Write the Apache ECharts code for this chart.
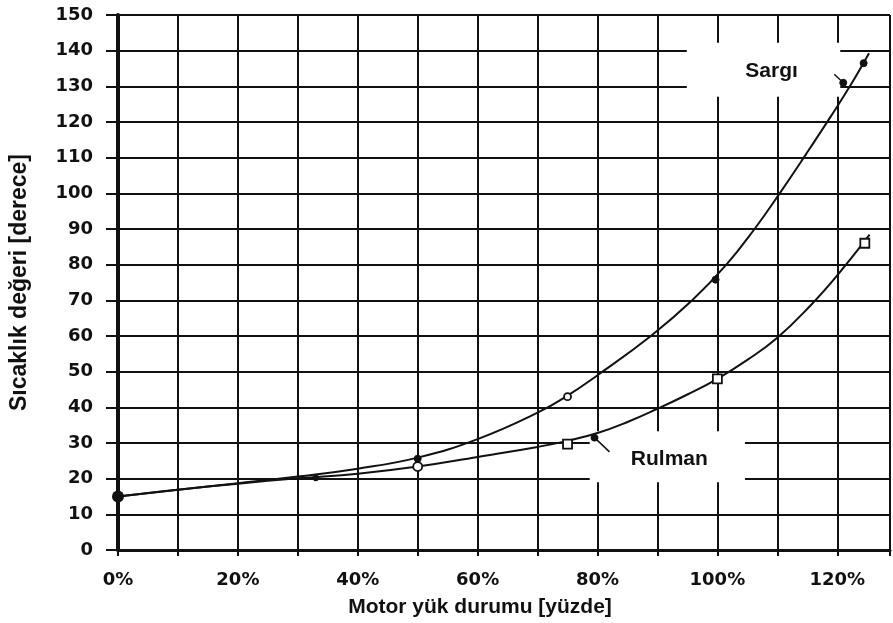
<!DOCTYPE html>
<html>
<head>
<meta charset="utf-8">
<script src="https://cdn.jsdelivr.net/npm/echarts@6/dist/echarts.min.js"></script>
<style>
  html, body { margin: 0; padding: 0; background: #fff; }
  #chart { width: 893px; height: 623px; }
</style>
</head>
<body>
<div id="chart"></div>
<script>
// ---- Data ----
const xTickValues = [0, 20, 40, 60, 80, 100, 120];          // labelled loads (%)
const yTickValues = [0, 10, 20, 30, 40, 50, 60, 70, 80, 90, 100, 110, 120, 130, 140, 150];

// Fitted curve (Sargı = winding)
const sargiCurveX = [0, 10, 20, 30, 40, 50, 60, 70, 75, 80, 88.9, 95.8, 101.5, 106.2, 110.4, 114.8, 118.9, 122.1, 125.3];
const sargiCurveY = [15, 16.9, 18.7, 20.6, 22.8, 25.9, 31.1, 38.5, 43.3, 49, 60, 70, 80, 90, 100, 111, 121.5, 130, 139.3];

// Fitted curve (Rulman = bearing)
const rulmanCurveX = [0, 10, 20, 30, 40, 50, 60, 70, 75, 80, 85, 90, 95, 100, 105, 110, 115.5, 120, 125.4];
const rulmanCurveY = [15, 16.9, 18.6, 20.1, 21.4, 23.4, 26.1, 28.9, 30.6, 32.8, 35.9, 39.6, 43.6, 48, 53.3, 59.5, 68.5, 77, 88.4];

// Measured points
const sargiPointX = [50, 75, 99.7, 121, 124.4];
const sargiPointY = [25.6, 43, 75.8, 131, 136.5];
const rulmanPointX = [33, 50, 75, 79.5, 100, 124.6];
const rulmanPointY = [20.2, 23.4, 29.7, 31.5, 48, 86];
const startPoint = [0, 15];

// Label boxes and arrows (data coordinates)
const sargiLabel = 'Sargı';
const rulmanLabel = 'Rulman';
const sargiBox = [[94.9, 142.2], [120.5, 127.1]];
const rulmanBox = [[78.7, 33.3], [104.6, 19.0]];
const sargiArrow = [[121, 131], [119.5, 133.4]];
const rulmanArrow = [[79.5, 31.5], [82, 27.5]];

const xAxisName = 'Motor yük durumu [yüzde]';
const yAxisName = 'Sıcaklık değeri [derece]';

// ---- Build ----
const zip = (xs, ys) => xs.map((x, i) => [x, ys[i]]);
const ink = '#111';
const tickFont = { fontFamily: 'DejaVu Sans', fontWeight: 'bold', fontSize: 18, color: ink };

const chart = echarts.init(document.getElementById('chart'), null, { renderer: 'canvas' });

const sargiPts = zip(sargiPointX, sargiPointY).map((p, i) => {
  const hollow = i === 1;
  return {
    value: p,
    symbol: 'circle',
    symbolSize: 7,
    itemStyle: hollow
      ? { color: '#fff', borderColor: ink, borderWidth: 1.8, opacity: 1 }
      : { color: ink, borderColor: ink, borderWidth: 1, opacity: 1 }
  };
});
const rulmanPts = zip(rulmanPointX, rulmanPointY).map((p, i) => {
  let sym = 'rect', size = 9, fill = '#fff';
  if (i === 0) { sym = 'circle'; size = 5; fill = ink; }
  if (i === 1) { sym = 'circle'; size = 9; fill = '#fff'; }
  if (i === 3) { sym = 'circle'; size = 6; fill = ink; }
  return {
    value: p, symbol: sym, symbolSize: size,
    itemStyle: { color: fill, borderColor: ink, borderWidth: 1.8, opacity: 1 }
  };
});

const option = {
  animation: false,
  backgroundColor: '#fff',
  grid: { left: 115, right: 0, top: 15, bottom: 72, containLabel: false },
  xAxis: {
    type: 'value', min: 0, max: 128.8, interval: 10,
    name: xAxisName, nameLocation: 'middle', nameGap: 47,
    nameTextStyle: { fontFamily: 'Liberation Sans', fontWeight: 'bold', fontSize: 21, color: ink, padding: [0, 48, 0, 0] },
    axisLine: { show: true, onZero: false, lineStyle: { color: ink, width: 3 } },
    axisTick: { show: true, length: 6, lineStyle: { color: ink, width: 2 } },
    axisLabel: Object.assign({}, tickFont, {
      margin: 21,
      formatter: v => (xTickValues.indexOf(v) >= 0 ? v + '%' : '')
    }),
    splitLine: { show: true, lineStyle: { color: ink, width: 2 } }
  },
  yAxis: {
    type: 'value', min: 0, max: 150, interval: 10,
    name: yAxisName, nameLocation: 'middle', nameGap: 87,
    nameTextStyle: { fontFamily: 'Liberation Sans', fontWeight: 'bold', fontSize: 23, color: ink },
    axisLine: { show: true, lineStyle: { color: ink, width: 4 } },
    axisTick: { show: true, length: 12, lineStyle: { color: ink, width: 2 } },
    axisLabel: Object.assign({}, tickFont, {
      margin: 25,
      formatter: v => (yTickValues.indexOf(v) >= 0 ? String(v) : '')
    }),
    splitLine: { show: true, lineStyle: { color: ink, width: 2 } }
  },
  series: [
    {
      name: 'boxes', type: 'scatter', data: [], silent: true,
      markArea: {
        silent: true,
        itemStyle: { color: '#fff', borderWidth: 0, opacity: 1 },
        label: { show: true, position: 'inside', fontFamily: 'Liberation Sans', fontWeight: 'bold', fontSize: 21, color: ink },
        data: [
          [{ coord: sargiBox[0], name: sargiLabel, label: { offset: [8, 1] } }, { coord: sargiBox[1] }],
          [{ coord: rulmanBox[0], name: rulmanLabel, label: { offset: [2, 2] } }, { coord: rulmanBox[1] }]
        ]
      }
    },
    {
      name: 'Sargı eğri', type: 'line', z: 3, data: zip(sargiCurveX, sargiCurveY),
      smooth: 0.45, showSymbol: false, symbol: 'none',
      lineStyle: { color: ink, width: 2 }
    },
    {
      name: 'Rulman eğri', type: 'line', z: 3, data: zip(rulmanCurveX, rulmanCurveY),
      smooth: 0.45, showSymbol: false, symbol: 'none',
      lineStyle: { color: ink, width: 2 }
    },
    {
      name: 'Sargı', type: 'scatter', z: 4, data: sargiPts,
      markLine: {
        silent: true, symbol: ['none', 'none'], label: { show: false },
        lineStyle: { color: ink, width: 1.5, type: 'solid' },
        data: [[{ coord: sargiArrow[0] }, { coord: sargiArrow[1] }]]
      }
    },
    {
      name: 'Rulman', type: 'scatter', z: 4, data: rulmanPts,
      markLine: {
        silent: true, symbol: ['none', 'none'], label: { show: false },
        lineStyle: { color: ink, width: 1.5, type: 'solid' },
        data: [[{ coord: rulmanArrow[0] }, { coord: rulmanArrow[1] }]]
      }
    },
    {
      name: 'Başlangıç', type: 'scatter', z: 5, data: [startPoint],
      symbol: 'circle', symbolSize: 12, itemStyle: { color: ink, opacity: 1 }
    }
  ]
};
chart.setOption(option);
</script>
</body>
</html>
